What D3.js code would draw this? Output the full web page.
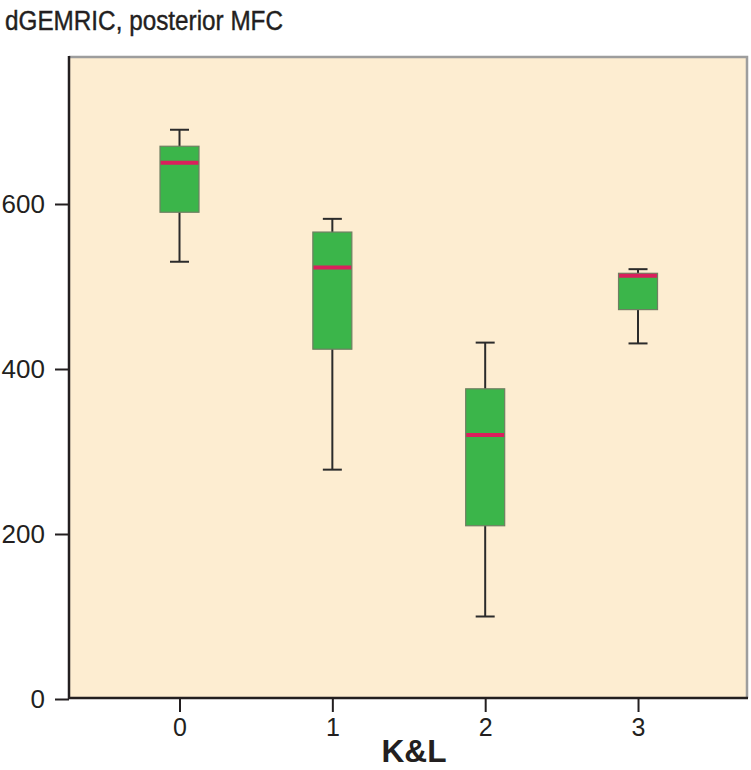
<!DOCTYPE html>
<html>
<head>
<meta charset="utf-8">
<script src="https://cdn.jsdelivr.net/npm/d3@7"></script>
<style>
  body { margin: 0; background: #fff; }
  text { font-family: "Liberation Sans", Arial, sans-serif; fill: #231f20; }
</style>
</head>
<body>
<div id="visual"></div>
<script>
// data
const groups = [0, 1, 2, 3];
const whiskerLow = [530, 278, 100, 431];
const q1 = [590, 424, 210, 472];
const medians = [650, 523, 320, 513];
const q3 = [670, 566, 376, 516];
const whiskerHigh = [690, 582, 432, 521];
const yTicks = [0, 200, 400, 600];

const width = 751, height = 770;
const plot = {left: 69, right: 747, top: 57, bottom: 698};

const svg = d3.select("#visual")
	.append("svg")
	.attr("width", width)
	.attr("height", height);

const x = d3.scaleLinear()
	.domain([-0.723, 3.713])
	.range([plot.left, plot.right]);
const y = d3.scaleLinear()
	.domain([0, 600])
	.range([699, 204]);

// plot background
svg.append("rect")
	.attr("x", plot.left)
	.attr("y", plot.top)
	.attr("width", plot.right - plot.left)
	.attr("height", plot.bottom - plot.top)
	.attr("fill", "#fdedd1");
// gray top/right frame
svg.append("path")
	.attr("d", `M${plot.left},${plot.top}H${plot.right}V${plot.bottom}`)
	.attr("fill", "none")
	.attr("stroke", "#9d9d9d")
	.attr("stroke-width", 2.5);

// title
svg.append("text")
	.attr("x", 5)
	.attr("y", 30)
	.attr("font-size", 27)
	.attr("textLength", 278)
	.attr("lengthAdjust", "spacingAndGlyphs")
	.style("paint-order", "stroke")
	.attr("stroke", "#231f20")
	.attr("stroke-width", 0.4)
	.text("dGEMRIC, posterior MFC");

// axes
const yAxis = svg.append("g")
	.attr("transform", `translate(${plot.left},0)`)
	.call(d3.axisLeft(y).tickValues(yTicks).tickSize(14).tickPadding(10).tickFormat(d3.format("d")));
const xAxis = svg.append("g")
	.attr("transform", `translate(0,${plot.bottom})`)
	.call(d3.axisBottom(x).tickValues(groups).tickSize(14).tickPadding(6).tickFormat(d3.format("d")));
[yAxis, xAxis].forEach(a => {
	a.select(".domain").remove();
	a.selectAll("line").attr("stroke", "#231f20").attr("stroke-width", 2);
	a.selectAll("text").attr("font-size", 26).attr("fill", "#231f20").style("font-family", "'Liberation Sans', Arial, sans-serif");
});
xAxis.selectAll("text").attr("font-size", 25);
// dark left/bottom frame
svg.append("path")
	.attr("d", `M${plot.left},${plot.top - 1}V${plot.bottom}H${plot.right + 1}`)
	.attr("fill", "none")
	.attr("stroke", "#231f20")
	.attr("stroke-width", 2.5);

svg.append("text")
	.attr("x", 414)
	.attr("y", 762)
	.attr("text-anchor", "middle")
	.attr("font-size", 32)
	.attr("font-weight", "bold")
	.attr("textLength", 65)
	.attr("lengthAdjust", "spacingAndGlyphs")
	.text("K&L");

// boxes
const boxW = 39, capW = 19;
const box = svg.selectAll(".box")
	.data(groups)
	.enter()
	.append("g")
	.attr("class", "box");

box.append("line")
	.attr("x1", d => x(d)).attr("x2", d => x(d))
	.attr("y1", (d, i) => y(whiskerLow[i]))
	.attr("y2", (d, i) => y(whiskerHigh[i]))
	.attr("stroke", "#2b2b2b").attr("stroke-width", 2);
[whiskerLow, whiskerHigh].forEach(arr => {
	box.append("line")
		.attr("x1", d => x(d) - capW / 2).attr("x2", d => x(d) + capW / 2)
		.attr("y1", (d, i) => y(arr[i])).attr("y2", (d, i) => y(arr[i]))
		.attr("stroke", "#2b2b2b").attr("stroke-width", 2);
});
box.append("rect")
	.attr("x", d => x(d) - boxW / 2)
	.attr("width", boxW)
	.attr("y", (d, i) => y(q3[i]))
	.attr("height", (d, i) => y(q1[i]) - y(q3[i]))
	.attr("fill", "#3bb54a")
	.attr("stroke", "#6f7f62")
	.attr("stroke-width", 1.2);
box.append("line")
	.attr("x1", d => x(d) - boxW / 2 + 0.6).attr("x2", d => x(d) + boxW / 2 - 0.6)
	.attr("y1", (d, i) => y(medians[i])).attr("y2", (d, i) => y(medians[i]))
	.attr("stroke", "#da1f5c").attr("stroke-width", 4);
</script>
</body>
</html>
